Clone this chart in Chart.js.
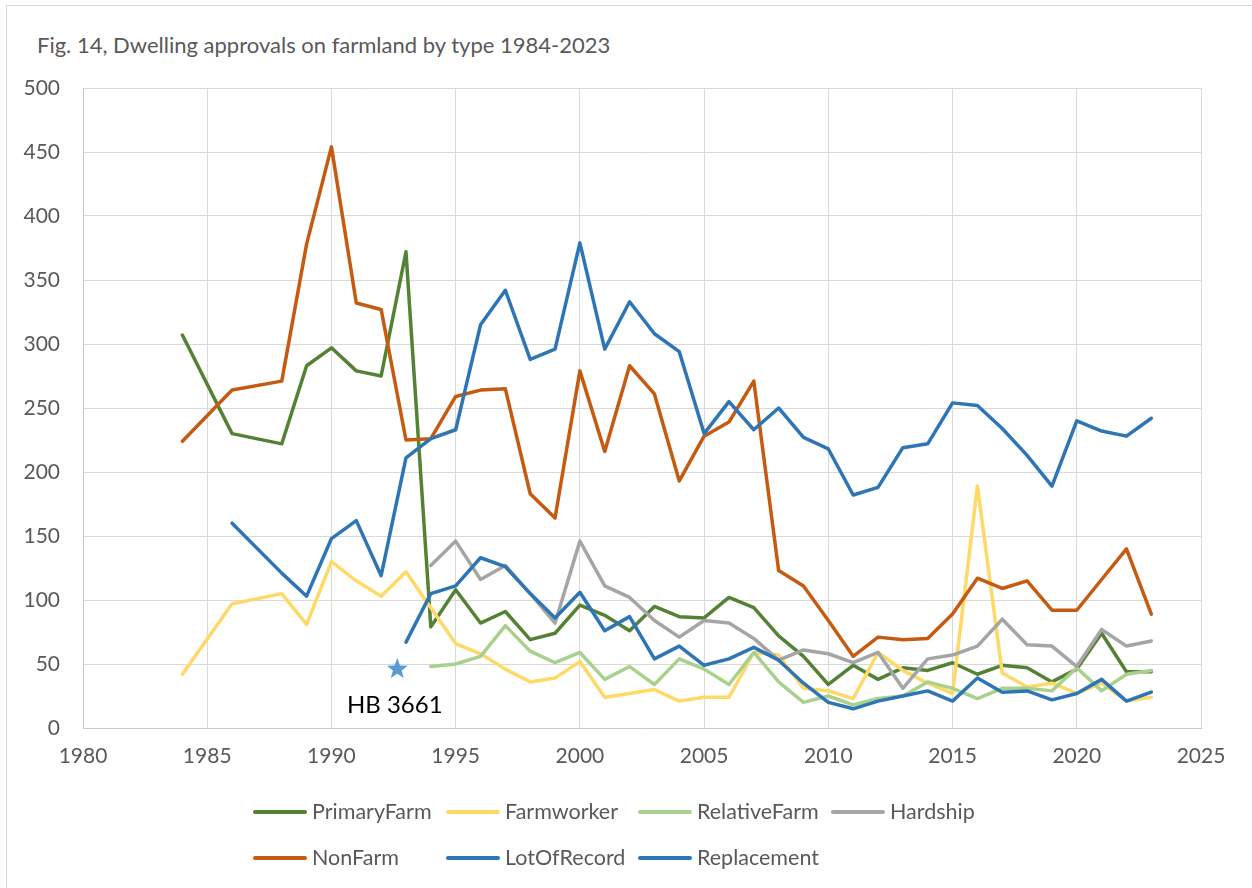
<!DOCTYPE html>
<html lang="en">

<head>
    <meta charset="UTF-8" />
    <title>Dwelling approvals on farmland</title>
    <script src="https://cdn.jsdelivr.net/npm/chart.js@4.4.1/dist/chart.umd.min.js"></script>
    <style>
        html, body { margin: 0; padding: 0; background: #fff; overflow: hidden; }
        #wrap { position: relative; width: 1252px; height: 888px; font-family: Lato, sans-serif; }
        #frame { position: absolute; left: 6px; top: 5px; width: 1300px; height: 950px; border: 1px solid #d9d9d9; }
        #title { position: absolute; left: 37px; top: 31px; font-size: 22px; color: #595959; white-space: nowrap; }
        canvas { position: absolute; left: 0; top: 0; }
        .leg { position: absolute; font-size: 21.5px; color: #595959; white-space: nowrap; line-height: 24px; }
        .leg span.ln { display: inline-block; width: 54px; height: 4px; border-radius: 2px; vertical-align: middle; margin-right: 5px; margin-top: -3px; }
    </style>
</head>

<body>
    <div id="wrap">
        <div id="frame"></div>
        <div id="title">Fig. 14, Dwelling approvals on farmland by type 1984-2023</div>
        <canvas id="chart" width="1252" height="888"></canvas>
        <div id="legend"></div>
    </div>

    <script>
        // years 1984-2023, null = no value that year
        const years = [];
        for (let y = 1984; y <= 2023; y++) years.push(y);

        const primaryFarm = [307, null, 230, null, 222, 283, 297, 279, 275, 372,
            79, 108, 82, 91, 69, 74, 96, 88, 76, 95,
            87, 86, 102, 94, 72, 56, 34, 49, 38, 47,
            45, 51, 42, 49, 47, 36, 46, 74, 44, 44];
        const farmworker = [42, null, 97, null, 105, 81, 130, 115, 103, 122,
            94, 66, 58, 46, 36, 39, 52, 24, 27, 30,
            21, 24, 24, 59, 57, 31, 29, 23, 59, 45,
            35, 27, 189, 43, 32, 35, 27, 35, 21, 24];
        const relativeFarm = [null, null, null, null, null, null, null, null, null, null,
            48, 50, 56, 80, 60, 51, 59, 38, 48, 34,
            54, 46, 34, 59, 36, 20, 25, 18, 23, 25,
            36, 31, 23, 31, 31, 29, 47, 29, 42, 45];
        const hardship = [null, null, null, null, null, null, null, null, null, null,
            127, 146, 116, 127, 105, 82, 146, 111, 102, 84,
            71, 84, 82, 70, 53, 61, 58, 51, 59, 31,
            54, 57, 64, 85, 65, 64, 48, 77, 64, 68];
        const nonFarm = [224, null, 264, null, 271, 378, 454, 332, 327, 225,
            226, 259, 264, 265, 183, 164, 279, 216, 283, 261,
            193, 228, 239, 271, 123, 111, 84, 56, 71, 69,
            70, 89, 117, 109, 115, 92, 92, 116, 140, 89];
        const lotOfRecord = [null, null, null, null, null, null, null, null, null, 67,
            105, 111, 133, 126, 105, 86, 106, 76, 87, 54,
            64, 49, 54, 63, 53, 35, 20, 15, 21, 25,
            29, 21, 39, 28, 29, 22, 27, 38, 21, 28];
        const replacement = [null, null, 160, null, 121, 103, 148, 162, 119, 211,
            226, 233, 315, 342, 288, 296, 379, 296, 333, 308,
            294, 230, 255, 233, 250, 227, 218, 182, 188, 219,
            222, 254, 252, 234, 213, 189, 240, 232, 228, 242];

        const seriesNames = ["PrimaryFarm", "Farmworker", "RelativeFarm", "Hardship", "NonFarm", "LotOfRecord", "Replacement"];
        const seriesValues = [primaryFarm, farmworker, relativeFarm, hardship, nonFarm, lotOfRecord, replacement];
        const seriesColors = ["#548235", "#ffd966", "#a9d18e", "#a5a5a5", "#c55a11", "#2e75b6", "#2e75b6"];

        // HB 3661 marker
        const markerYear = 1992.65;
        const markerValue = 46;
        const markerText = "HB 3661";
        const markerTextYear = 1992.55;
        const markerTextValue = 18;

        function toPoints(vals) {
            const pts = [];
            vals.forEach((v, i) => {
                if (v !== null) pts.push({ x: years[i], y: v });
            });
            return pts;
        }

        const datasets = seriesNames.map((name, i) => ({
            label: name,
            data: toPoints(seriesValues[i]),
            borderColor: seriesColors[i],
            backgroundColor: seriesColors[i],
            borderWidth: 3.5,
            pointRadius: 0,
            tension: 0,
            fill: false,
            borderCapStyle: "round",
            borderJoinStyle: "round",
            order: seriesNames.length - i
        }));

        const markerPlugin = {
            id: "marker",
            afterDatasetsDraw(chart) {
                const ctx = chart.ctx;
                const sx = chart.scales.x, sy = chart.scales.y;
                const cx = sx.getPixelForValue(markerYear);
                const cy = sy.getPixelForValue(markerValue);
                const outer = 11, inner = 4.6;
                ctx.save();
                ctx.beginPath();
                for (let k = 0; k < 10; k++) {
                    const r = k % 2 === 0 ? outer : inner;
                    const a = -Math.PI / 2 + k * Math.PI / 5;
                    const px = cx + r * Math.cos(a), py = cy + r * Math.sin(a);
                    if (k === 0) ctx.moveTo(px, py); else ctx.lineTo(px, py);
                }
                ctx.closePath();
                ctx.fillStyle = "#5b9bd5";
                ctx.fill();
                ctx.font = "24px Lato";
                ctx.fillStyle = "#000";
                ctx.textAlign = "center";
                ctx.textBaseline = "middle";
                ctx.fillText(markerText, sx.getPixelForValue(markerTextYear), sy.getPixelForValue(markerTextValue));
                ctx.restore();
            }
        };

        Chart.defaults.font.family = "Lato";
        Chart.defaults.color = "#595959";

        new Chart(document.getElementById("chart"), {
            type: "line",
            data: { datasets: datasets },
            options: {
                responsive: false,
                animation: false,
                layout: { padding: { left: 0, top: 88, right: 51, bottom: 100 } },
                plugins: { legend: { display: false }, tooltip: { enabled: false } },
                scales: {
                    x: {
                        type: "linear",
                        min: 1980,
                        max: 2025,
                        ticks: { stepSize: 5, padding: 16, font: { size: 21 }, color: "#595959", callback: v => String(v) },
                        grid: { color: "#d9d9d9", lineWidth: 1, drawTicks: false },
                        border: { color: "#c8c8c8", width: 1 },
                        afterFit: s => { s.height = 60; }
                    },
                    y: {
                        min: 0,
                        max: 500,
                        ticks: { stepSize: 50, padding: 23, font: { size: 21 }, color: "#595959" },
                        grid: { color: "#d9d9d9", lineWidth: 1, drawTicks: false },
                        border: { color: "#c8c8c8", width: 1 },
                        afterFit: s => { s.width = 83; }
                    }
                }
            },
            plugins: [markerPlugin]
        });

        // legend laid out in fixed columns like the original
        const legCols = [253, 446, 638, 831];
        const legRows = [811, 857];
        const legend = document.getElementById("legend");
        seriesNames.forEach((name, i) => {
            const d = document.createElement("div");
            d.className = "leg";
            d.style.left = legCols[i % 4] + "px";
            d.style.top = (legRows[Math.floor(i / 4)] - 12) + "px";
            d.innerHTML = '<span class="ln" style="background:' + seriesColors[i] + '"></span>' + name;
            legend.appendChild(d);
        });
    </script>
</body>

</html>
